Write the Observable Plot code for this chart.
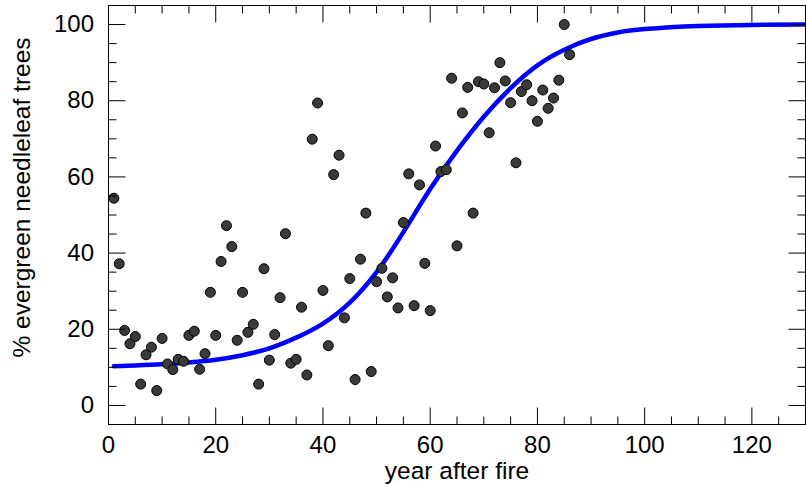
<!DOCTYPE html>
<html>
<head>
<meta charset="utf-8">
<script src="https://cdn.jsdelivr.net/npm/d3@7"></script>
<script src="https://cdn.jsdelivr.net/npm/@observablehq/plot@0.6"></script>
<style>
  html, body { margin: 0; padding: 0; background: white; }
</style>
</head>
<body>
<div id="chart"></div>
<script>
// Observed data: one sample per year after fire
const years = [1,2,3,4,5,6,7,8,9,10,11,12,13,14,15,16,17,18,19,20,
  21,22,23,24,25,26,27,28,29,30,31,32,33,34,35,36,37,38,39,40,
  41,42,43,44,45,46,47,48,49,50,51,52,53,54,55,56,57,58,59,60,
  61,62,63,64,65,66,67,68,69,70,71,72,73,74,75,76,77,78,79,80,
  81,82,83,84,85,86];
const pctNeedleleaf = [54.4,37.2,19.7,16.2,18.1,5.6,13.3,15.3,3.9,17.6,
  10.9,9.4,12.1,11.6,18.4,19.5,9.5,13.6,29.7,18.4,
  37.8,47.2,41.7,17.1,29.7,19.2,21.3,5.6,35.9,11.9,
  18.6,28.3,45.1,11.1,12.1,25.8,8.0,69.9,79.4,30.2,
  15.7,60.6,65.7,23.0,33.3,6.8,38.4,50.5,8.9,32.5,
  36.0,28.5,33.5,25.6,48.0,60.8,26.2,57.9,37.3,24.9,
  68.1,61.4,61.9,85.9,41.9,76.8,83.5,50.5,85.0,84.4,
  71.6,83.4,90.0,85.2,79.5,63.7,82.4,84.2,80.0,74.6,
  82.8,78.0,80.7,85.4,100,92.1];

// Fitted curve
const fitYears = [1,5,10,15,20,25,30,35,40,45,50,55,60,65,70,75,80,85,90,95,100,110,120,130];
const fitPct   = [10.3,10.5,10.8,11.3,12.0,13.2,15.0,17.8,21.5,27.0,35.0,45.5,56.8,66.9,75.8,83.3,89.3,93.4,96.2,97.9,98.8,99.6,99.9,100];

// Tick values
const xMajor = [0,20,40,60,80,100,120];
const xMinor = [5,10,15,25,30,35,45,50,55,65,70,75,85,90,95,105,110,115,125];
const yMajor = [0,20,40,60,80,100];
const yMinor = [5,10,15,25,30,35,45,50,55,65,70,75,85,90,95];

const xLabel = "year after fire";
const yLabel = "% evergreen needleleaf trees";

const points = years.map((x, i) => ({x, y: pctNeedleleaf[i]}));
const fit = fitYears.map((x, i) => ({x, y: fitPct[i]}));

const W = 806, H = 484, ML = 108, MR = 1, MT = 5, MB = 60;
const plotW = W - ML - MR, plotH = H - MT - MB;
const xDom = [0, 130], yDom = [-5, 105];
const majorLen = 17, minorLen = 8;               // tick lengths in pixels
const xUnit = (xDom[1] - xDom[0]) / plotW;        // data units per pixel
const yUnit = (yDom[1] - yDom[0]) / plotH;

// inward ticks drawn as links (paths) through the scales
const tickStyle = {stroke: "black", strokeWidth: 1};
const xTicks = (vals, len) => [
  Plot.link(vals, {x1: d => d, x2: d => d, y1: () => yDom[0], y2: () => yDom[0] + len * yUnit, ...tickStyle}),
  Plot.link(vals, {x1: d => d, x2: d => d, y1: () => yDom[1] - len * yUnit, y2: () => yDom[1], ...tickStyle})
];
const yTicks = (vals, len) => [
  Plot.link(vals, {y1: d => d, y2: d => d, x1: () => xDom[0], x2: () => xDom[0] + len * xUnit, ...tickStyle}),
  Plot.link(vals, {y1: d => d, y2: d => d, x1: () => xDom[1] - len * xUnit, x2: () => xDom[1], ...tickStyle})
];

const chart = Plot.plot({
  width: W,
  height: H,
  marginLeft: ML,
  marginRight: MR,
  marginTop: MT,
  marginBottom: MB,
  style: {fontFamily: "'Liberation Sans', Arial, Helvetica, sans-serif", fontSize: "24px", background: "white", color: "black"},
  x: {domain: xDom},
  y: {domain: yDom},
  marks: [
    Plot.line(fit, {x: "x", y: "y", stroke: "#0000ff", strokeWidth: 4.5, curve: "natural"}),
    Plot.dot(points, {x: "x", y: "y", r: 5, fill: "#3a3a3a", stroke: "black", strokeWidth: 1}),
    Plot.axisX(xMajor, {anchor: "bottom", tickSize: 0, tickPadding: 11, fontSize: 24, label: null}),
    Plot.axisY(yMajor, {anchor: "left", tickSize: 0, tickPadding: 14.5, fontSize: 24, label: null}),
    Plot.frame({stroke: "black", strokeWidth: 1}),
    ...xTicks(xMajor, majorLen),
    ...xTicks(xMinor, minorLen),
    ...yTicks(yMajor, majorLen),
    ...yTicks(yMinor, minorLen),
    Plot.text([xLabel], {text: d => d, frameAnchor: "bottom", dy: 54, lineAnchor: "bottom", textAnchor: "middle", fontSize: 24.5, fill: "black"}),
    Plot.text([yLabel], {text: d => d, frameAnchor: "left", rotate: -90, dx: -86, dy: -17.5, lineAnchor: "middle", textAnchor: "middle", fontSize: 24.5, fill: "black"})
  ]
});

document.getElementById("chart").appendChild(chart);
</script>
</body>
</html>
